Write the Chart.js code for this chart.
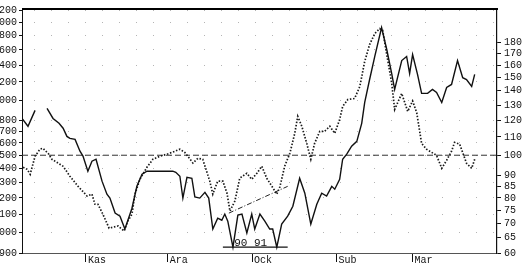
<!DOCTYPE html>
<html lang="tr">
<head>
  <meta charset="UTF-8">
  <title>IMKB</title>
  <script src="https://cdn.jsdelivr.net/npm/chart.js"></script>
  <style>
    html, body { margin: 0; padding: 0; background: #fff; }
    .frame { position: relative; width: 528px; height: 272px; overflow: hidden; }
    .box { position: absolute; left: -8px; top: 0; width: 536px; height: 272px; }
  </style>
</head>
<body>
<div class="frame">
  <div class="box"><canvas id="chart"></canvas></div>
</div>

<script>
  // x ekseni: 1 Ekim'den itibaren gun
  const monthDays = [31, 61, 92, 123, 151];
  const monthLabels = ["Kas", "Ara", "Ock", "Sub", "Mar"];
  const leftTicks = [900, 1000, 1100, 1200, 1300, 1400, 1500, 1600, 1700, 1800, 2000, 2200, 2400, 2600, 2800, 3000, 3200];
  const rightTicks = [60, 65, 70, 75, 80, 85, 90, 100, 110, 120, 130, 140, 150, 160, 170, 180];

  // endeks (sol eksen, duz cizgi)
  const solidDays = [7.5, 9.7, 12.3, 14.5, 16.7, 18.9, 21.1, 22.6, 24.0, 25.1, 27.0, 28.8, 29.9, 31.7, 33.2, 34.7,
    36.9, 38.7, 39.8, 41.7, 43.5, 45.3, 47.9, 49.7, 51.6, 53.4, 58.2, 62.9, 64.0, 65.5, 66.6, 68.1, 69.9, 71.0,
    72.8, 74.7, 76.1, 77.6, 79.4, 80.9, 82.0, 83.1, 85.0, 86.8, 88.3, 90.1, 91.9, 93.0, 94.9, 96.7, 98.5, 99.6,
    101.1, 102.9, 105.1, 107.0, 109.5, 111.4, 113.6, 115.8, 117.6, 119.4, 121.3, 122.4, 124.2, 125.3, 126.8,
    128.6, 130.5, 132.3, 133.4, 135.2, 137.1, 139.6, 141.5, 143.3, 144.4, 147.0, 148.8, 149.9, 151.0, 152.8,
    154.3, 156.5, 158.3, 159.8, 161.7, 163.5, 165.3, 167.5, 169.4, 170.8, 172.7, 173.8];
  const solidIndex = [1818, 1745, 1896, null, 1915, 1818, 1772, 1727, 1655, 1638, 1629, 1532, 1493, 1380, 1454, 1469,
    1310, 1224, 1199, 1109, 1091, 1020, 1137, 1275, 1358, 1380, 1380, 1380, 1372, 1344, 1199, 1337, 1330, 1206,
    1199, 1236, 1199, 1020, 1080, 1068, 1103, 1063, 928, 1097, 1103, 999, 1103, 1020, 1103, 1063, 1020, 1020,
    928, 1047, 1091, 1149, 1330, 1230, 1047, 1161, 1230, 1212, 1275, 1256, 1323, 1469, 1508, 1572, 1613, 1772,
    1976, 2228, 2513, 2921, 2606, 2300, 2115, 2460, 2513, 2300, 2538, 2288, 2072, 2072, 2115, 2082, 1976, 2137,
    2171, 2460, 2249, 2228, 2148, 2288];

  // goreli deger (sag eksen, noktali cizgi)
  const dottedDays = [7.9, 9.4, 10.5, 12.3, 14.1, 15.2, 17.1, 18.5, 22.6, 25.1, 28.1, 31.4, 33.2, 34.3, 35.4, 37.2,
    39.5, 42.8, 45.0, 46.4, 47.9, 49.0, 50.8, 53.4, 55.6, 58.2, 60.7, 63.7, 65.5, 67.3, 68.4, 70.3, 72.1, 73.9,
    76.5, 77.6, 79.4, 81.3, 82.8, 83.9, 85.7, 87.5, 90.1, 91.9, 93.8, 95.6, 97.4, 99.3, 101.1, 102.2, 104.0,
    105.9, 107.7, 108.8, 110.3, 112.1, 113.6, 115.0, 116.9, 118.7, 120.6, 122.4, 124.2, 125.3, 127.2, 129.7,
    131.6, 133.4, 135.2, 137.1, 138.9, 140.0, 141.5, 143.3, 144.4, 147.0, 149.2, 151.0, 152.5, 154.3, 156.1,
    158.0, 159.8, 161.7, 163.5, 165.3, 166.4, 168.3, 170.8, 172.7, 173.8];
  const dottedValues = [93.9, 92.9, 90.5, 99.5, 103.2, 103.7, 101, 97.9, 94.4, 89.6, 85, 80.8, 81.6, 77.4, 77.4, 73.5,
    68.3, 69.1, 67.3, 70.9, 73.5, 81.6, 88.2, 93.9, 97.9, 99.5, 100.5, 102.1, 103.2, 101.5, 99.5, 96, 98.4, 97.9,
    87.3, 81.6, 87.3, 87.3, 82, 74.7, 78.7, 88.7, 91, 88.2, 91, 94.4, 88.7, 85, 81.6, 84.6, 94.4, 101, 112.1,
    122.5, 116.3, 106.4, 97.9, 106.4, 113.3, 113.3, 116.3, 112.1, 120.6, 129, 133.8, 134.5, 143.2, 163.2, 178.3,
    188.8, 193.7, 192, 169.2, 146, 127, 138.1, 125.7, 132.8, 124.9, 106.4, 103.2, 101.5, 99.9, 93.4, 97.4, 102.1,
    106.9, 105.9, 95.9, 93.4, 97.9];

  // 100 seviyesi ve elle cizilmis isaretler
  const baseDays = [7.5, 182];
  const baseValues = [100, 100];
  const trendDays = [83.5, 105.1];
  const trendValues = [73.9, 85];
  const lowDays = [81.3, 105.1];
  const lowValues = [61.9, 61.9];
  const lowLabel = "90 91";
  const lowLabelAt = [91.5, 61.9];

  const monoFont = { family: "'Liberation Mono', 'DejaVu Sans Mono', monospace", size: 10 };

  function pts(xs, ys) {
    return xs.map((x, i) => ({ x: x, y: ys[i] }));
  }

  const extras = {
    id: 'extras',
    afterDatasetsDraw(chart) {
      const { ctx, chartArea, scales } = chart;
      ctx.save();
      // kalin ust cerceve
      ctx.strokeStyle = '#000';
      ctx.lineWidth = 2;
      ctx.beginPath();
      ctx.moveTo(chartArea.left, chartArea.top);
      ctx.lineTo(chartArea.right + 1, chartArea.top);
      ctx.stroke();
      // "90 91"
      ctx.fillStyle = '#111';
      ctx.font = "11px 'Liberation Mono', monospace";
      ctx.textAlign = 'center';
      ctx.textBaseline = 'alphabetic';
      ctx.fillText(lowLabel, scales.x.getPixelForValue(lowLabelAt[0]), scales.y2.getPixelForValue(lowLabelAt[1]) - 1);
      ctx.restore();
    }
  };

  new Chart(document.getElementById('chart'), {
    type: 'line',
    data: {
      datasets: [
        {
          label: 'Endeks',
          data: pts(solidDays, solidIndex),
          yAxisID: 'y',
          borderColor: '#111',
          borderWidth: 1.4,
          pointRadius: 0,
          tension: 0,
          spanGaps: false
        },
        {
          label: 'Goreli',
          data: pts(dottedDays, dottedValues),
          yAxisID: 'y2',
          borderColor: '#1a1a1a',
          borderWidth: 1.7,
          borderDash: [1.5, 1.7],
          pointRadius: 0,
          tension: 0
        },
        {
          label: '100',
          data: pts(baseDays, baseValues),
          yAxisID: 'y2',
          borderColor: '#333',
          borderWidth: 1,
          borderDash: [6, 3],
          pointRadius: 0
        },
        {
          label: 'trend',
          data: pts(trendDays, trendValues),
          yAxisID: 'y2',
          borderColor: '#222',
          borderWidth: 1,
          borderDash: [5, 2, 1, 2],
          pointRadius: 0
        },
        {
          label: 'dip',
          data: pts(lowDays, lowValues),
          yAxisID: 'y2',
          borderColor: '#111',
          borderWidth: 1.2,
          pointRadius: 0
        }
      ]
    },
    options: {
      responsive: true,
      maintainAspectRatio: false,
      animation: false,
      layout: { padding: { top: 7, left: 0, right: 0, bottom: 0 } },
      plugins: {
        legend: { display: false },
        tooltip: { enabled: false }
      },
      scales: {
        x: {
          type: 'linear',
          min: 7.5,
          max: 182,
          afterBuildTicks: (scale) => { scale.ticks = monthDays.map(v => ({ value: v })); },
          afterFit: (scale) => { scale.height = 19; },
          ticks: {
            callback: (v, i) => monthLabels[i],
            align: 'start',
            labelOffset: 2,
            padding: -8,
            autoSkip: false,
            maxRotation: 0,
            color: '#111',
            font: monoFont
          },
          grid: { drawOnChartArea: false, tickLength: 9, tickColor: '#111', color: '#111' },
          border: { color: '#555', width: 1 }
        },
        y: {
          type: 'logarithmic',
          position: 'left',
          min: 900,
          max: 3220,
          afterBuildTicks: (scale) => { scale.ticks = leftTicks.map(v => ({ value: v })); },
          afterFit: (scale) => { scale.width = 30; },
          ticks: {
            callback: (v) => String(v),
            autoSkip: false,
            padding: 2,
            color: '#111',
            font: monoFont
          },
          grid: { color: '#b4b4b4', lineWidth: 1, tickLength: 3, tickColor: '#111', tickBorderDash: [] },
          border: { color: '#111', width: 1, dash: [1, 16], dashOffset: 6 }
        },
        y2: {
          type: 'logarithmic',
          position: 'right',
          min: 60,
          max: 3220 / 15,
          afterBuildTicks: (scale) => { scale.ticks = rightTicks.map(v => ({ value: v })); },
          afterFit: (scale) => { scale.width = 31; },
          ticks: {
            callback: (v) => String(v),
            autoSkip: false,
            padding: 3,
            color: '#111',
            font: monoFont
          },
          grid: { drawOnChartArea: false, tickLength: 4, tickColor: '#111' },
          border: { color: '#111', width: 1.2 }
        }
      }
    },
    plugins: [extras]
  });
</script>
</body>
</html>
